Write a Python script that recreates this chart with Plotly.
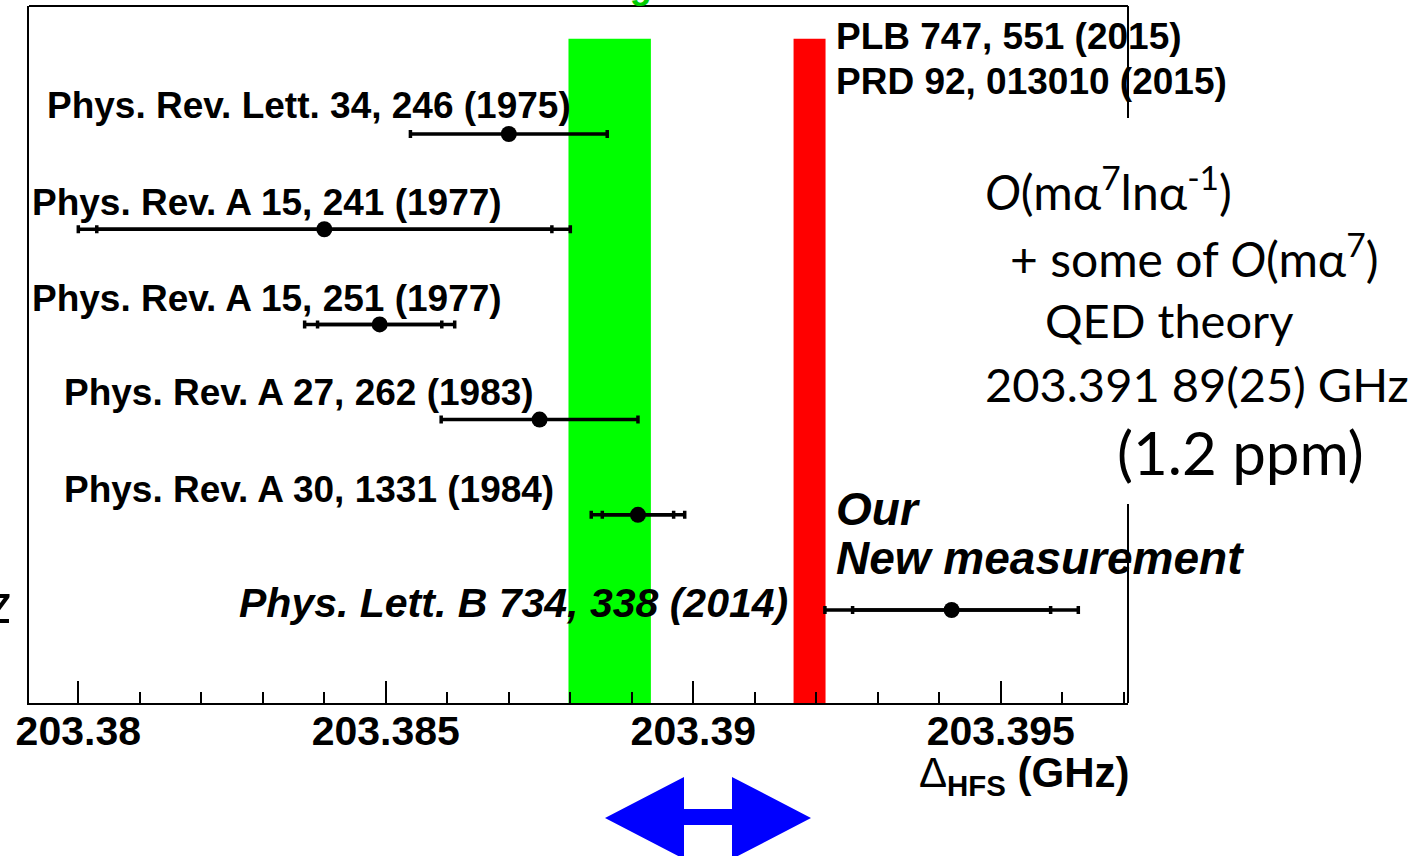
import plotly.graph_objects as go

# ---------------- data ----------------
labels = [
    "Phys. Rev. Lett. 34, 246 (1975)",
    "Phys. Rev. A 15, 241 (1977)",
    "Phys. Rev. A 15, 251 (1977)",
    "Phys. Rev. A 27, 262 (1983)",
    "Phys. Rev. A 30, 1331 (1984)",
    "Phys. Lett. B 734, 338 (2014)",
]
rows = [6, 5, 4, 3, 2, 1]
values = [203.3870, 203.3840, 203.3849, 203.3875, 203.3891, 203.3942]
err_total = [0.0016, 0.0040, 0.00122, 0.0016, 0.00076, 0.00206]
err_inner = [None, 0.0037, 0.00101, None, 0.00058, 0.00161]

avg_center, avg_half = 203.38864, 0.00067      # green band
theory_center, theory_half = 203.39189, 0.00026  # red band

tick_vals = [203.38, 203.385, 203.39, 203.395]
tick_text = ["203.38", "203.385", "203.39", "203.395"]

# ---------------- layout helpers ----------------
W, H = 1427, 856
L, R, T, B = 29, 299, 6, 153
PW, PH = W - L - R, H - T - B


def px(x):
    return (x - L) / PW


def py(y):
    return (H - B - y) / PH


fig = go.Figure()

# main points with total error bars
fig.add_trace(go.Scatter(
    x=values, y=rows, mode="markers",
    marker=dict(size=16, color="black"),
    error_x=dict(type="data", array=err_total, color="black", thickness=3.5, width=4),
    hoverinfo="skip",
))

# inner (statistical) error caps
ix = [v for v, e in zip(values, err_inner) if e is not None]
iy = [r for r, e in zip(rows, err_inner) if e is not None]
ie = [e for e in err_inner if e is not None]
fig.add_trace(go.Scatter(
    x=ix, y=iy, mode="markers",
    marker=dict(size=1, color="rgba(0,0,0,0)"),
    error_x=dict(type="data", array=ie, color="black", thickness=3.5, width=4),
    hoverinfo="skip",
))

shapes = []
# bands
shapes.append(dict(type="rect", xref="x", yref="y",
                   x0=avg_center - avg_half, x1=avg_center + avg_half, y0=0, y1=7,
                   fillcolor="#00ff00", line=dict(width=0), layer="below"))
shapes.append(dict(type="rect", xref="x", yref="y",
                   x0=theory_center - theory_half, x1=theory_center + theory_half, y0=0, y1=7,
                   fillcolor="#ff0000", line=dict(width=0), layer="below"))
# frame: top and right (right interrupted)
shapes.append(dict(type="line", xref="paper", yref="paper", x0=0, x1=1, y0=1, y1=1,
                   line=dict(color="black", width=2)))
shapes.append(dict(type="line", xref="paper", yref="paper", x0=1, x1=1, y0=py(118), y1=1,
                   line=dict(color="black", width=2)))
shapes.append(dict(type="line", xref="paper", yref="paper", x0=1, x1=1, y0=0, y1=py(504),
                   line=dict(color="black", width=2)))

# blue double arrow
pts = [(605, 818), (684, 777), (684, 809), (732, 809), (732, 777), (811, 818),
       (732, 859), (732, 825), (684, 825), (684, 859)]
path = "M " + " L ".join(f"{px(a):.5f},{py(b):.5f}" for a, b in pts) + " Z"
shapes.append(dict(type="path", xref="paper", yref="paper", path=path,
                   fillcolor="#0000ff", line=dict(width=0)))

fig.update_layout(shapes=shapes)

ann = []
ARIAL = "Liberation Sans, Arial"
label_pos = [(45, 106, "left"), (30, 202, "left"), (30, 298, "left"),
             (62, 393, "left"), (62, 489, "left"), (790, 603, "right")]
for i, (lab, (x, y, anc)) in enumerate(zip(labels, label_pos)):
    txt = f"<b>{lab}</b>" if i < 5 else f"<b><i>{lab}</i></b>"
    size = 37 if i < 5 else 41
    ann.append(dict(xref="paper", yref="paper", x=px(x), y=py(y), text=txt,
                    xanchor=anc, yanchor="middle", showarrow=False,
                    font=dict(family=ARIAL, size=size, color="black")))

# top-right references
ann.append(dict(xref="paper", yref="paper", x=px(834), y=py(37), text="<b>PLB 747, 551 (2015)</b>",
                xanchor="left", yanchor="middle", showarrow=False,
                font=dict(family=ARIAL, size=37, color="black")))
ann.append(dict(xref="paper", yref="paper", x=px(834), y=py(82), text="<b>PRD 92, 013010 (2015)</b>",
                xanchor="left", yanchor="middle", showarrow=False,
                font=dict(family=ARIAL, size=37, color="black")))
# our new measurement
ann.append(dict(xref="paper", yref="paper", x=px(834), y=py(509), text="<b><i>Our</i></b>",
                xanchor="left", yanchor="middle", showarrow=False,
                font=dict(family=ARIAL, size=46, color="black")))
ann.append(dict(xref="paper", yref="paper", x=px(834), y=py(558), text="<b><i>New measurement</i></b>",
                xanchor="left", yanchor="middle", showarrow=False,
                font=dict(family=ARIAL, size=46, color="black")))

# theory text
CAL = "Lato, Carlito, Open Sans"
theory_lines = [
    (983, 188, "<i>O</i>(mα<sup>7</sup>lnα<sup>-1</sup>)", 48),
    (1008, 256, "+ some of <i>O</i>(mα<sup>7</sup>)", 48),
    (1043, 320, "QED theory", 47),
    (983, 384, "203.391 89(25) GHz", 47),
    (1115, 452, "(1.2 ppm)", 60),
]
for x, y, t, s in theory_lines:
    ann.append(dict(xref="paper", yref="paper", x=px(x), y=py(y), text=t,
                    xanchor="left", yanchor="middle", showarrow=False,
                    font=dict(family=CAL, size=s, color="black")))

# axis title
ann.append(dict(xref="paper", yref="paper", x=px(1132), y=py(775),
                text="Δ<b><sub>HFS</sub> (GHz)</b>",
                xanchor="right", yanchor="middle", showarrow=False,
                font=dict(family=ARIAL, size=42, color="black")))
# cut-off texts at the edges
ann.append(dict(xref="paper", yref="paper", x=px(618), y=py(8), text="<b>Avg</b>",
                xanchor="center", yanchor="bottom", showarrow=False,
                font=dict(family=ARIAL, size=36, color="#00cc00")))
ann.append(dict(xref="paper", yref="paper", x=px(13), y=py(601), text="GHz",
                xanchor="right", yanchor="middle", showarrow=False,
                font=dict(family=CAL, size=56, color="black")))

fig.update_layout(annotations=ann)

fig.update_layout(
    width=W, height=H,
    margin=dict(l=L, r=R, t=T, b=B, pad=0),
    paper_bgcolor="white", plot_bgcolor="white",
    showlegend=False,
    xaxis=dict(
        range=[203.379198, 203.397068],
        showgrid=False, zeroline=False,
        showline=True, linecolor="black", linewidth=2,
        ticks="inside", ticklen=22, tickwidth=2, tickcolor="black",
        tickvals=tick_vals, ticktext=tick_text,
        ticklabelstandoff=-9,
        tickfont=dict(family=ARIAL, size=41, color="black", weight="bold"),
        minor=dict(dtick=0.001, tick0=203.38, ticks="inside", ticklen=11,
                   tickwidth=2, tickcolor="black", showgrid=False),
    ),
    yaxis=dict(
        range=[0.023, 7.345],
        showgrid=False, zeroline=False,
        showline=True, linecolor="black", linewidth=2,
        showticklabels=False, ticks="",
    ),
)

fig.write_html("out.html")
